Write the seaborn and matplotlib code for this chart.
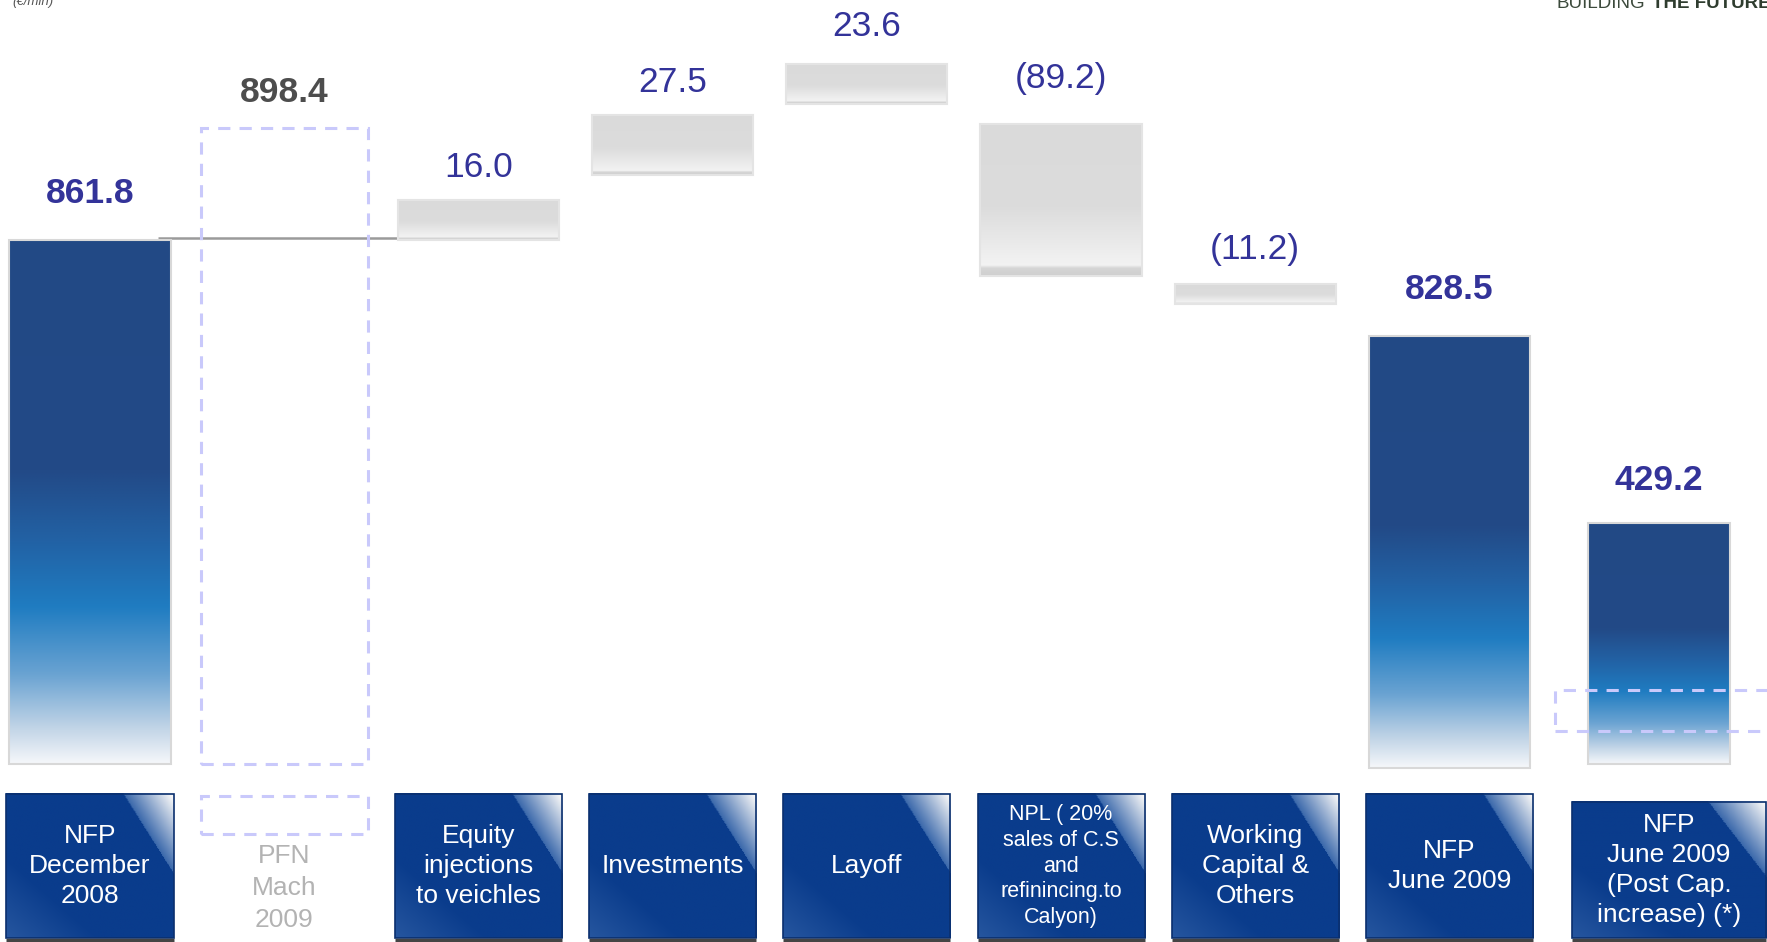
import matplotlib
matplotlib.use("Agg")
import matplotlib.pyplot as plt
import matplotlib.patches as mpatches
from matplotlib.colors import LinearSegmentedColormap, to_rgb
import numpy as np
import pandas as pd
import seaborn as sns

# net financial position bridge (EUR mln)
categories = ["NFP\nDecember\n2008", "PFN\nMach\n2009", "Equity\ninjections\nto veichles",
              "Investments", "Layoff",
              "NPL ( 20%\nsales of C.S\nand\nrefinincing.to\nCalyon)",
              "Working\nCapital &\nOthers", "NFP\nJune 2009",
              "NFP\nJune 2009\n(Post Cap.\nincrease) (*)"]
values = [861.8, 898.4, 16.0, 27.5, 23.6, -89.2, -11.2, 828.5, 429.2]
kinds = ["total", "memo", "step", "step", "step", "step", "step", "total", "total"]
# bar extents as drawn on the slide (not to scale with the values)
bar_low = [0, 0, 861.8, 968.7, 1085.5, 802.6, 756.6, -6.6, 0]
bar_high = [861.8, 1046.0, 927.6, 1067.4, 1151.3, 1052.6, 789.5, 703.9, 396.4]
post_cap_band = (54.3, 121.7)

# label offsets above bar tops, in points
label_pad = [27, 19, 16.5, 16.5, 20, 26, 18, 26.5, 24]

sns.set_theme(style="white")
plt.rcParams["font.family"] = ["Liberation Sans", "DejaVu Sans"]

W, H = 1767, 942
fig = plt.figure(figsize=(W / 100, H / 100), dpi=100)
ax = fig.add_axes([0, 0, 1, 1])

frame = pd.DataFrame({"pos": np.arange(len(categories)), "low": bar_low,
                      "span": np.array(bar_high) - np.array(bar_low), "kind": kinds})
bars = frame[frame["kind"] != "memo"].reset_index(drop=True)
sns.barplot(data=bars, x="pos", y="span", bottom=bars["low"].to_numpy(), native_scale=True,
            width=0.83, color="white", linewidth=0, errorbar=None, ax=ax, zorder=2)

blue_cmap = LinearSegmentedColormap.from_list("blue", [
    (0.0, "#234985"), (0.44, "#224a87"), (0.58, "#2263a6"), (0.70, "#1f7cc1"),
    (0.83, "#6aa3d2"), (0.93, "#bfd3e6"), (1.0, "#f5f7fa")])
gray_cmap = LinearSegmentedColormap.from_list("gray", [
    (0.0, "#dadada"), (0.55, "#dcdcdc"), (0.85, "#eeeeee"), (0.93, "#f3f3f3"),
    (0.95, "#d6d6d6"), (1.0, "#cfcfcf")])

for patch, kind, pos in zip(ax.patches, bars["kind"], bars["pos"]):
    if pos == 8:
        # last bar is narrower and sits a little further right on the slide
        patch.set_width(0.73)
        patch.set_x(pos + 0.08 - 0.365)
    x0, y0 = patch.get_x(), patch.get_y()
    x1, y1 = x0 + patch.get_width(), y0 + patch.get_height()
    cmap = blue_cmap if kind == "total" else gray_cmap
    grad = cmap(np.linspace(0, 1, 256))[:, None, :]
    im = ax.imshow(grad, extent=[x0, x1, y0, y1], aspect="auto", origin="upper",
                   zorder=3, interpolation="bilinear")
    im.set_clip_path(patch)
    ax.add_patch(mpatches.Rectangle((x0, y0), x1 - x0, y1 - y0, fill=False,
                                    edgecolor="#d8d8d8" if kind == "total" else "#e4e4e4",
                                    lw=1.5, zorder=4))

dash = (0, (4, 3))
lav = "#c9c9fb"
# PFN memo box (dashed outline)
ax.add_patch(mpatches.Rectangle((1 - 0.43, bar_low[1]), 0.86, bar_high[1] - bar_low[1],
                                fill=False, edgecolor=lav, lw=2.2, linestyle=dash, zorder=2))
# post capital increase band
ax.add_patch(mpatches.Rectangle((8 - 0.456, post_cap_band[0]), 1.5, post_cap_band[1] - post_cap_band[0],
                                fill=False, edgecolor=lav, lw=2.2, linestyle=dash, zorder=5))
# connector line
ax.hlines(bar_high[0] + 3, 0.35, 2 - 0.415, color="#9a9a9a", lw=1.8, zorder=1)

# value labels
for i, (v, kind) in enumerate(zip(values, kinds)):
    txt = f"{v:.1f}" if v >= 0 else f"({abs(v):.1f})"
    if kind == "total":
        color, weight = "#333399", "bold"
    elif kind == "memo":
        color, weight = "#4d4d4d", "bold"
    else:
        color, weight = "#333399", "normal"
    x = i + 0.08 if i == 8 else i
    ax.annotate(txt, (x, bar_high[i]), xytext=(0, label_pad[i]), textcoords="offset points",
                ha="center", va="baseline", fontsize=25.5, color=color, fontweight=weight, zorder=6)

# category boxes
gh, gw = 150, 170
v, u = np.mgrid[1:0:gh * 1j, 0:1:gw * 1j]
navy = np.array(to_rgb("#0a3c8c"))
sheen = np.array(to_rgb("#3a68ab"))
white = np.ones(3)
img = np.tile(navy, (gh, gw, 1))
d = u - 0.70 - (1 - v) * 0.545
t = np.clip(d / 0.28, 0, 1)[..., None]
in_sheen = (d > 0)[..., None]
img = np.where(in_sheen, sheen * (1 - t) + white * t * 0.97, img)
lb = np.clip(1 - (u + v) / 0.55, 0, 1)[..., None] * 0.35
img = img * (1 - lb) + np.array(to_rgb("#5a86c2")) * lb

box_top, box_bot = -49.3, -286.2
for i, label in enumerate(categories):
    if kinds[i] == "memo":
        ax.add_patch(mpatches.Rectangle((i - 0.43, -115.1), 0.86, 62.5, fill=False,
                                        edgecolor=lav, lw=2.2, linestyle=dash))
        ax.text(i, -204, label, ha="center", va="center", fontsize=19, color="#b3b3b3",
                linespacing=1.4)
        continue
    cx, half, top = i, 0.43, box_top
    if i == 8:
        cx, half, top = 8.13, 0.5, -62.5
    ax.imshow(img, extent=[cx - half, cx + half, box_bot, top], aspect="auto", zorder=5)
    ax.add_patch(mpatches.Rectangle((cx - half, box_bot), 2 * half, top - box_bot, fill=False,
                                    edgecolor="#0a2f6e", lw=1.2, zorder=6))
    ax.hlines(box_bot - 2.5, cx - half, cx + half, color="#444444", lw=2.5, zorder=6)
    if i == 5:
        ax.text(cx, (top + box_bot) / 2, label, ha="center", va="center", fontsize=15.5,
                color="white", linespacing=1.3, zorder=7)
    else:
        ax.text(cx, (top + box_bot) / 2, label, ha="center", va="center", fontsize=19,
                color="white", linespacing=1.32, zorder=7)

ax.set_xlim(-0.4634, 8.635)
ax.set_ylim(-292.7, 1256.6)
ax.axis("off")

fig.text(12 / W, 1 - 5 / H, "(€/mln)", fontsize=9.5, style="italic", color="#555555",
         ha="left", va="baseline")
fig.text(1556 / W, 1 - 8 / H, "BUILDING", fontsize=13.5, color="#3c4a3c", ha="left", va="baseline")
fig.text(1652 / W, 1 - 8 / H, "THE FUTURE", fontsize=13.5, color="#2f3d2f", fontweight="bold",
         ha="left", va="baseline")

fig.savefig("out.png", dpi=100)
